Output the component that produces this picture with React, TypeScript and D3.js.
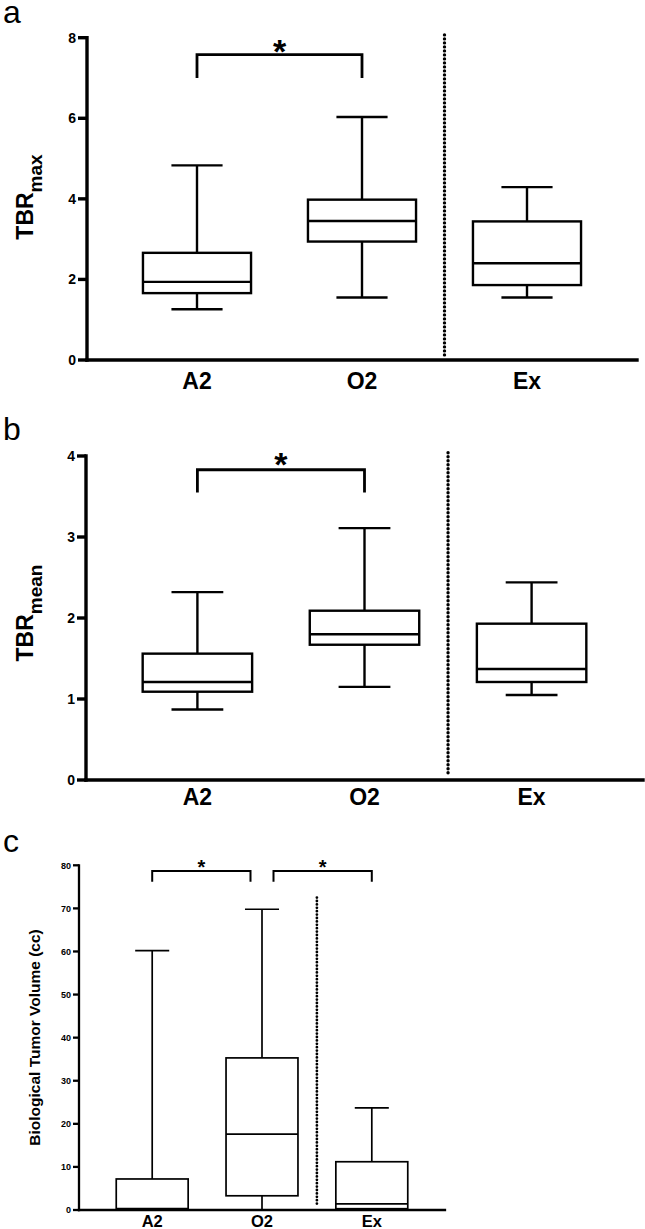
import { scaleLinear, scalePoint } from 'd3'

// Three box-and-whisker panels: TBRmax, TBRmean and biological tumor volume
// for the A2 / O2 / Ex groups. Each box row is [low whisker, Q1, median, Q3, high whisker].

type Five = [number, number, number, number, number]

const groups = ['A2', 'O2', 'Ex']

const tbrMaxStats: Five[] = [
  [1.26, 1.66, 1.94, 2.66, 4.83],
  [1.55, 2.94, 3.45, 3.98, 6.03],
  [1.55, 1.86, 2.4, 3.44, 4.29],
]
const tbrMaxTicks = [0, 2, 4, 6, 8]

const tbrMeanStats: Five[] = [
  [0.87, 1.09, 1.21, 1.56, 2.32],
  [1.15, 1.67, 1.8, 2.09, 3.11],
  [1.05, 1.21, 1.37, 1.93, 2.44],
]
const tbrMeanTicks = [0, 1, 2, 3, 4]

const btvStats: Five[] = [
  [0, 0.2, 0.3, 7.2, 60.2],
  [0, 3.3, 17.6, 35.3, 69.8],
  [0.1, 0.3, 1.4, 11.2, 23.7],
]
const btvTicks = [0, 10, 20, 30, 40, 50, 60, 70, 80]

// significance brackets: [from group, to group, bar level, leg end level]
const tbrMaxSig: [string, string, number, number][] = [['A2', 'O2', 7.58, 7.0]]
const tbrMeanSig: [string, string, number, number][] = [['A2', 'O2', 3.83, 3.55]]
const btvSig: [string, string, number, number][] = [
  ['A2', 'O2', 78.7, 76.2],
  ['O2', 'Ex', 78.7, 76.2],
]

const FONT = '"Liberation Sans", Arial, Helvetica, sans-serif'

interface PanelProps {
  letter: string
  letterY: number
  stats: Five[]
  ticks: number[]
  sig: [string, string, number, number][]
  dotTop: number
  x0: number
  x1: number
  yTop: number
  yBottom: number
  axisW: number
  boxW: number
  tickLen: number
  tickFont: number
  catFont: number
  catY: number
  starFont: number
  starY: number
  sigW: number
  sigGap: number
  dotW: number
  dotGap: number
  label: React.ReactNode
  labelX: number
  labelY: number
}

function BoxPanel(p: PanelProps) {
  const domainMax = p.ticks[p.ticks.length - 1]
  const y = scaleLinear().domain([0, domainMax]).range([p.yBottom, p.yTop])
  const x = scalePoint<string>().domain(groups).range([p.x0, p.x1]).padding(2 / 3)
  const step = x.step()
  const half = (step * 0.655) / 2
  const cap = (step * 0.31) / 2
  const divider = ((x('O2') ?? 0) + (x('Ex') ?? 0)) / 2

  return (
    <g>
      <text x={3} y={p.letterY} fontFamily={FONT} fontSize={32}>
        {p.letter}
      </text>

      {/* y label */}
      <text
        transform={`translate(${p.labelX}, ${p.labelY}) rotate(-90)`}
        textAnchor="middle"
        fontFamily={FONT}
        fontWeight="bold"
      >
        {p.label}
      </text>

      {/* boxes */}
      {p.stats.map((s, i) => {
        const cx = x(groups[i]) ?? 0
        const [lo, q1, med, q3, hi] = s
        return (
          <g key={groups[i]} stroke="#000" fill="none" strokeWidth={p.boxW}>
            <line x1={cx} x2={cx} y1={y(hi)} y2={y(q3)} />
            <line x1={cx} x2={cx} y1={y(q1)} y2={y(lo)} />
            <line x1={cx - cap} x2={cx + cap} y1={y(hi)} y2={y(hi)} />
            <line x1={cx - cap} x2={cx + cap} y1={y(lo)} y2={y(lo)} />
            <rect x={cx - half} y={y(q3)} width={half * 2} height={y(q1) - y(q3)} fill="#fff" />
            <line x1={cx - half} x2={cx + half} y1={y(med)} y2={y(med)} />
          </g>
        )
      })}

      {/* divider between groups */}
      <line
        x1={divider}
        x2={divider}
        y1={y(p.dotTop)}
        y2={p.yBottom - 5}
        stroke="#000"
        strokeWidth={p.dotW}
        strokeLinecap="round"
        strokeDasharray={`0 ${p.dotGap}`}
      />

      {/* significance brackets */}
      {p.sig.map(([a, b, top, leg], i) => {
        let xa = x(a) ?? 0
        let xb = x(b) ?? 0
        if (p.sig.length > 1) {
          if (i === 0) xb -= p.sigGap
          else xa += p.sigGap
        }
        const yt = y(top)
        return (
          <g key={`${a}-${b}`}>
            <path
              d={`M${xa},${y(leg)}V${yt}H${xb}V${y(leg)}`}
              fill="none"
              stroke="#000"
              strokeWidth={p.sigW}
            />
            <text
              x={(xa + xb) / 2}
              y={yt + p.starY}
              textAnchor="middle"
              fontFamily={FONT}
              fontWeight="bold"
              fontSize={p.starFont}
            >
              *
            </text>
          </g>
        )
      })}

      {/* axes */}
      <g stroke="#000" strokeWidth={p.axisW} strokeLinecap="square">
        <line x1={p.x0} x2={p.x0} y1={p.yTop} y2={p.yBottom} />
        <line x1={p.x0} x2={p.x1} y1={p.yBottom} y2={p.yBottom} />
        {p.ticks.map((t) => (
          <line key={t} x1={p.x0 - p.tickLen} x2={p.x0} y1={y(t)} y2={y(t)} strokeLinecap="butt" />
        ))}
      </g>
      {p.ticks.map((t) => (
        <text
          key={t}
          x={p.x0 - p.tickLen - 2}
          y={y(t)}
          dy="0.36em"
          textAnchor="end"
          fontFamily={FONT}
          fontWeight="bold"
          fontSize={p.tickFont}
        >
          {t}
        </text>
      ))}
      {groups.map((g) => (
        <text
          key={g}
          x={x(g)}
          y={p.catY}
          textAnchor="middle"
          fontFamily={FONT}
          fontWeight="bold"
          fontSize={p.catFont}
        >
          {g}
        </text>
      ))}
    </g>
  )
}

export default function App() {
  return (
    <svg
      width={645}
      height={1229}
      viewBox="0 0 645 1229"
      style={{ position: 'absolute', left: 0, top: 0, background: '#fff' }}
    >
      <BoxPanel
        letter="a"
        letterY={23}
        stats={tbrMaxStats}
        ticks={tbrMaxTicks}
        sig={tbrMaxSig}
        dotTop={8.07}
        x0={87}
        x1={637}
        yTop={37.7}
        yBottom={360}
        axisW={3.4}
        boxW={2.4}
        tickLen={9}
        tickFont={14}
        catFont={23}
        catY={388.5}
        starFont={34}
        starY={8}
        sigW={2.8}
        sigGap={0}
        dotW={3.4}
        dotGap={4}
        labelX={33}
        labelY={197}
        label={
          <>
            <tspan fontSize={23}>TBR</tspan>
            <tspan fontSize={19} dy={9}>max</tspan>
          </>
        }
      />
      <BoxPanel
        letter="b"
        letterY={440}
        stats={tbrMeanStats}
        ticks={tbrMeanTicks}
        sig={tbrMeanSig}
        dotTop={4.04}
        x0={86}
        x1={643}
        yTop={456}
        yBottom={780}
        axisW={3.4}
        boxW={2.4}
        tickLen={9}
        tickFont={14}
        catFont={23}
        catY={804.5}
        starFont={34}
        starY={6.5}
        sigW={2.8}
        sigGap={0}
        dotW={3.4}
        dotGap={4}
        labelX={33}
        labelY={613}
        label={
          <>
            <tspan fontSize={23}>TBR</tspan>
            <tspan fontSize={19} dy={9}>mean</tspan>
          </>
        }
      />
      <BoxPanel
        letter="c"
        letterY={852}
        stats={btvStats}
        ticks={btvTicks}
        sig={btvSig}
        dotTop={72.5}
        x0={79}
        x1={445}
        yTop={865.3}
        yBottom={1210}
        axisW={2.3}
        boxW={1.7}
        tickLen={6}
        tickFont={9}
        catFont={16.5}
        catY={1226.5}
        starFont={20}
        starY={3.5}
        sigW={2}
        sigGap={11.5}
        dotW={2.8}
        dotGap={3.4}
        labelX={40}
        labelY={1037.5}
        label={<tspan fontSize={15.5}>Biological Tumor Volume (cc)</tspan>}
      />
    </svg>
  )
}
